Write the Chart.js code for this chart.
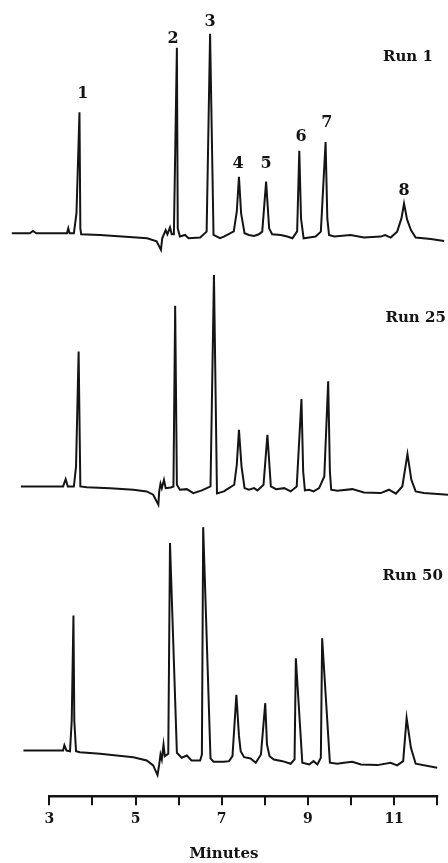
<!DOCTYPE html>
<html>
<head>
<meta charset="utf-8">
<script src="https://cdn.jsdelivr.net/npm/chart.js@4.4.1/dist/chart.umd.min.js"></script>
<style>
  html, body { margin: 0; padding: 0; background: #ffffff; }
  canvas { display: block; }
</style>
</head>
<body>
<canvas id="c" width="448" height="863"></canvas>
<script>
// ---- Data (retention time in minutes, detector signal relative to baseline) ----
const run1Times  = [2.13, 2.55, 2.62, 2.70, 3.41, 3.44, 3.47, 3.57, 3.63, 3.70, 3.72, 3.74, 4.18, 4.94, 5.27, 5.49, 5.59, 5.62, 5.70, 5.74, 5.80, 5.84, 5.89, 5.96, 5.98, 6.03, 6.15, 6.23, 6.50, 6.65, 6.73, 6.81, 6.96, 7.05, 7.28, 7.35, 7.40, 7.45, 7.53, 7.63, 7.75, 7.86, 7.94, 8.03, 8.10, 8.17, 8.37, 8.52, 8.64, 8.75, 8.80, 8.84, 8.90, 9.07, 9.18, 9.30, 9.41, 9.45, 9.49, 9.61, 9.99, 10.30, 10.69, 10.79, 10.92, 11.07, 11.17, 11.23, 11.30, 11.39, 11.50, 11.85, 12.16];
const run1Signal = [0, 0, 2.3, 0, 0, 5, 0, 0, 20, 122, 5, -1, -1.7, -4, -5, -8, -16.7, -5, 3.3, -1, 6, -1, -1, 187, 5, -3.3, -1.7, -5, -4.3, 1.7, 201, -1.7, -5, -3.3, 2, 22, 57, 20, 0, -1.7, -2.7, -1, 1.7, 52, 5, -1, -1.7, -3.3, -5, 2, 83, 15, -5, -4, -3.3, 1.7, 92, 15, -1.7, -3.3, -1.7, -4.3, -3.3, -1.7, -4.3, 1.7, 15, 30, 14, 3.3, -4.3, -5.7, -7.7];

const run25Times  = [2.34, 3.32, 3.38, 3.43, 3.57, 3.62, 3.68, 3.72, 3.87, 4.41, 4.95, 5.26, 5.41, 5.53, 5.55, 5.58, 5.61, 5.66, 5.70, 5.82, 5.88, 5.92, 5.96, 6.03, 6.19, 6.34, 6.54, 6.74, 6.82, 6.89, 7.05, 7.13, 7.29, 7.35, 7.40, 7.46, 7.53, 7.63, 7.75, 7.83, 7.97, 8.06, 8.14, 8.26, 8.45, 8.60, 8.74, 8.85, 8.89, 8.93, 9.03, 9.13, 9.26, 9.38, 9.47, 9.51, 9.54, 9.68, 10.03, 10.30, 10.69, 10.88, 11.04, 11.19, 11.31, 11.40, 11.50, 11.69, 12.25];
const run25Signal = [0, 0, 7.3, 0, 0, 20, 136, 0, -0.7, -1.7, -3.3, -5, -8.3, -18.3, -5, 2.7, -1.7, 6.7, -1.7, -1, 0, 182, 1.7, -3.3, -2.7, -6.7, -4, 0, 213, -7, -5, -2.7, 1.7, 22, 57, 20, -1.7, -3.3, -1.7, -4, 1.7, 52, 0, -2.7, -1.7, -5, 0, 88, 15, -4, -3.3, -5, -1.7, 10, 106, 15, -3.3, -4.3, -2.7, -6, -6.7, -3.3, -7.3, 0, 32.7, 6.7, -5, -6.7, -8.3];

const run50Times  = [2.40, 3.32, 3.35, 3.40, 3.48, 3.52, 3.56, 3.58, 3.62, 3.71, 4.18, 4.56, 4.95, 5.26, 5.41, 5.51, 5.55, 5.58, 5.61, 5.65, 5.68, 5.76, 5.80, 5.96, 6.07, 6.19, 6.30, 6.50, 6.54, 6.57, 6.74, 6.81, 7.05, 7.17, 7.25, 7.34, 7.40, 7.44, 7.52, 7.67, 7.79, 7.91, 8.01, 8.05, 8.11, 8.21, 8.41, 8.60, 8.69, 8.72, 8.87, 9.03, 9.13, 9.22, 9.30, 9.33, 9.51, 9.68, 9.84, 10.03, 10.23, 10.61, 10.92, 11.07, 11.21, 11.29, 11.39, 11.50, 12.00];
const run50Signal = [0, 0, 5.3, 0, -0.7, 30, 136, 30, -0.7, -1.7, -3.3, -5, -6.7, -10, -15, -24.7, -14, -4, -9, 6, -5.7, -3.3, 209, -2.3, -7.3, -5, -10, -10, -4, 225, -8, -11.3, -11.3, -10.7, -5.7, 56, 15, -0.7, -6.7, -8, -12.3, -4, 47.7, 6, -5.7, -9, -10.7, -13.3, -9, 93, -12.3, -14, -10.7, -14, -7.3, 113, -12.3, -13.3, -12.3, -11.3, -14, -14.7, -12.3, -15, -10.7, 32.7, 2.7, -13.3, -17.3];

const runNames     = ['Run 1', 'Run 25', 'Run 50'];
const peakNames    = ['1', '2', '3', '4', '5', '6', '7', '8'];
const xTickValues  = [3, 4, 5, 6, 7, 8, 9, 10, 11, 12];
const xTickLabels  = [3, 5, 7, 9, 11];
const xTitle       = 'Minutes';

// ---- build datasets ----
function pts(times, vals) { return times.map((t, i) => ({ x: t, y: vals[i] })); }
const lineStyle = { borderColor: '#141414', borderWidth: 2, pointRadius: 0, tension: 0, fill: false };

const datasets = [
  Object.assign({ label: runNames[0], data: pts(run1Times, run1Signal), yAxisID: 'y1' }, lineStyle),
  Object.assign({ label: runNames[1], data: pts(run25Times, run25Signal), yAxisID: 'y2' }, lineStyle),
  Object.assign({ label: runNames[2], data: pts(run50Times, run50Signal), yAxisID: 'y3' }, lineStyle)
];

const SERIF = '"DejaVu Serif", "Liberation Serif", serif';

// annotation plugin: axis line, peak numbers, run names (positions in data coordinates)
const annot = {
  id: 'annot',
  afterDatasetsDraw(chart, args, opts) {
    const ctx = chart.ctx;
    const xs = chart.scales.x;
    ctx.save();
    // axis line spanning the tick range
    ctx.strokeStyle = '#141414';
    ctx.lineWidth = 2.5;
    ctx.beginPath();
    const yb = chart.chartArea.bottom + 1;
    ctx.moveTo(xs.getPixelForValue(xTickValues[0]) - 1, yb);
    ctx.lineTo(xs.getPixelForValue(xTickValues[xTickValues.length - 1]) + 1, yb);
    ctx.stroke();

    ctx.fillStyle = '#141414';
    ctx.textBaseline = 'middle';
    // peak numbers (on Run 1)
    ctx.font = 'bold 16px ' + SERIF;
    ctx.textAlign = 'center';
    opts.peaks.forEach((p, i) => {
      const ys = chart.scales[p.axis];
      ctx.fillText(peakNames[i], xs.getPixelForValue(p.t), ys.getPixelForValue(p.v));
    });
    // run names
    ctx.font = 'bold 15px ' + SERIF;
    ctx.textAlign = 'right';
    opts.runs.forEach((r, i) => {
      const ys = chart.scales[r.axis];
      ctx.fillText(runNames[i], xs.getPixelForValue(r.t), ys.getPixelForValue(r.v));
    });
    ctx.restore();
  }
};

new Chart(document.getElementById('c'), {
  type: 'line',
  data: { datasets },
  plugins: [annot],
  options: {
    responsive: false,
    animation: false,
    events: [],
    layout: { padding: 0 },
    plugins: {
      legend: { display: false },
      tooltip: { enabled: false },
      annot: {
        peaks: [
          { axis: 'y1', t: 3.78, v: 140 },
          { axis: 'y1', t: 5.87, v: 196 },
          { axis: 'y1', t: 6.73, v: 213 },
          { axis: 'y1', t: 7.38, v: 70 },
          { axis: 'y1', t: 8.03, v: 70 },
          { axis: 'y1', t: 8.84, v: 97 },
          { axis: 'y1', t: 9.44, v: 111 },
          { axis: 'y1', t: 11.23, v: 43 }
        ],
        runs: [
          { axis: 'y1', t: 11.90, v: 177 },
          { axis: 'y2', t: 12.20, v: 170 },
          { axis: 'y3', t: 12.13, v: 176 }
        ]
      }
    },
    scales: {
      x: {
        type: 'linear',
        min: 1.856,
        max: 12.25,
        afterBuildTicks: (scale) => { scale.ticks = xTickValues.map(v => ({ value: v })); },
        border: { display: false },
        grid: { display: true, drawOnChartArea: false, drawTicks: true, tickLength: 10, color: '#141414', lineWidth: 2 },
        ticks: {
          autoSkip: false, maxRotation: 0, padding: 6, color: '#141414',
          font: { family: SERIF, size: 14, weight: 'bold' },
          callback: (value) => xTickLabels.includes(value) ? String(value) : ''
        },
        title: {
          display: true, text: xTitle, color: '#141414',
          font: { family: SERIF, size: 15, weight: 'bold' },
          padding: { top: 11, bottom: 0 }
        }
      },
      y1: { display: false, min: -566, max: 235 },
      y2: { display: false, min: -311, max: 490 },
      y3: { display: false, min: -45, max: 756 }
    }
  }
});
</script>
</body>
</html>
